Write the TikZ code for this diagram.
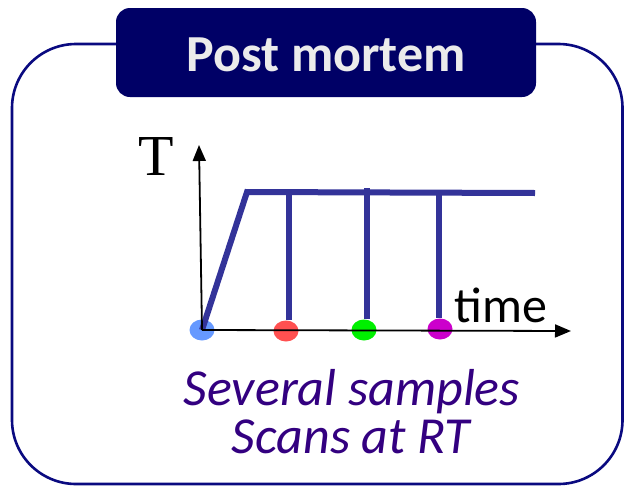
\documentclass[tikz,border=0pt]{standalone}
\usepackage{fontspec}
\setmainfont{Carlito}
\newfontfamily\timesf{Liberation Serif}
\usetikzlibrary{arrows.meta,shapes.geometric}
\definecolor{navyline}{RGB}{10,10,128}
\definecolor{titlefill}{RGB}{0,0,102}
\definecolor{titletext}{RGB}{235,235,235}
\definecolor{curveblue}{RGB}{51,51,153}
\definecolor{notepurple}{RGB}{51,0,128}
\definecolor{dotblue}{RGB}{102,153,255}
\definecolor{dotred}{RGB}{255,80,80}
\definecolor{dotgreen}{RGB}{0,240,0}
\definecolor{dotmag}{RGB}{204,0,204}
\tikzset{
  frame/.style={draw=navyline, line width=2.6pt, rounded corners=64pt},
  titlebox/.style={fill=titlefill, rounded corners=14pt},
  curve/.style={draw=curveblue, line width=6pt},
  axis/.style={draw=black, line width=1.8pt, -{Triangle[length=16pt,width=13pt]}},
  sampledot/.style={ellipse, minimum width=25pt, minimum height=21pt, inner sep=0pt},
  note/.style={font=\fontsize{52}{60}\selectfont\itshape, text=notepurple, anchor=base, inner sep=0pt},
}
\begin{document}
\begin{tikzpicture}[x=1pt,y=-1pt]
\useasboundingbox (0,0) rectangle (624,485);
% outer frame
\draw[frame] (12,44) rectangle (622.5,484);
% title
\fill[titlebox] (116,8) rectangle (536,97);
\node[anchor=base, inner sep=0pt, text=titletext, font=\fontsize{52}{60}\selectfont\bfseries] (title) at (326,71) {Post mortem};
% sample dots
\node[sampledot, fill=dotblue] (d0) at (202,330) {};
\node[sampledot, fill=dotred] (d1) at (286,331) {};
\node[sampledot, fill=dotgreen] (d2) at (364,330) {};
\node[sampledot, fill=dotmag] (d3) at (440,329) {};
% curve
\coordinate (top) at (247,192);
\coordinate (plend) at (535,193);
\coordinate (v1) at (289,192);
\coordinate (v2) at (367,188);
\coordinate (v3) at (439,193);
\draw[curve] (d0.center) -- (top) -- (plend);
\draw[curve] (v1) -- (d1.north -| v1);
\draw[curve] (v2) -- (d2.north -| v2);
\draw[curve] (v3) -- (d3.north -| v3);
% axes
\coordinate (ytip) at (199,145);
\coordinate (xtip) at (571,331);
\draw[axis] (d0.center) -- (ytip);
\draw[axis] (d0.center) -- (xtip);
% labels
\node[anchor=base, inner sep=0pt, font=\timesf\fontsize{58}{64}\selectfont] (T) at (156,175) {T};
\node[anchor=base, inner sep=0pt, font=\fontsize{50}{60}\selectfont] (time) at (501,322) {time};
\node[note, text depth=0pt] (n1) at (352,405) {Several samples};
\node[note, text height=34pt] (n2) at (351,453) {Scans at RT};
\end{tikzpicture}
\end{document}
